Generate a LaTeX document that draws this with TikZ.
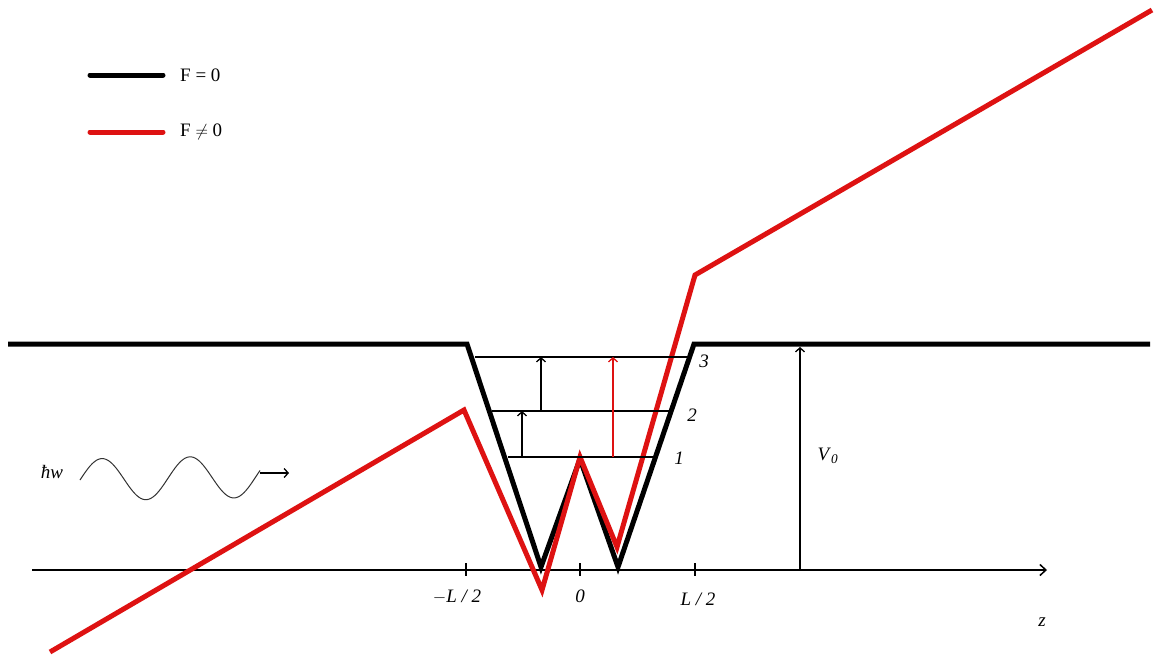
\documentclass[tikz,border=0pt]{standalone}
\usepackage{fontspec}
\setmainfont{Liberation Serif}
\usetikzlibrary{arrows.meta,positioning,calc}
\definecolor{fieldred}{RGB}{222,18,18}

\begin{document}
\begin{tikzpicture}[
  x=1pt, y=-1pt,
  thickline/.style={line width=5pt, line join=miter, miter limit=20},
  thinline/.style={line width=1.5pt},
  lvlarrow/.style={thinline,-{Straight Barb[length=4pt,width=9pt,line width=1.3pt]}},
  axisarrow/.style={thinline,-{Straight Barb[length=6pt,width=11pt,line width=1.5pt]}},
  every node/.style={font=\fontsize{19}{22}\selectfont, inner sep=1pt}
  ]
\useasboundingbox (0,0) rectangle (1156,657);

% legend
\coordinate (lgblackA) at (90,75);
\coordinate (lgblackB) at (163,75);
\coordinate (lgredA) at (90,132);
\coordinate (lgredB) at (163,132);
\draw[thickline, line cap=round] (lgblackA) -- (lgblackB);
\draw[thickline, line cap=round, fieldred] (lgredA) -- (lgredB);
\node[right=16pt of lgblackB] (lgblack) {F = 0};
\node[right=16pt of lgredB] (lgred) {F $\neq$ 0};

% z axis with ticks
\coordinate (zstart) at (32,570);
\coordinate (zend) at (1047,570);
\draw[axisarrow] (zstart) -- (zend);
\foreach \name/\xx in {tickneg/466, tickzero/580, tickpos/695} {
  \coordinate (\name) at (\xx,570);
  \draw[thinline] ($(\name)+(0,-7)$) -- ($(\name)+(0,6)$);
}
\node (lblneg) at (457,597) {\textit{$-$L / 2}};
\node (lblzero) at (580,596) {\textit{0}};
\node (lblpos) at (698,599) {\textit{L / 2}};
\node (lblz) at (1042,622) {\textit{z}};

% well, F = 0
\draw[thickline] (8,344) -- (467,344) -- (541,567) -- (580,459)
  -- (618,567) -- (694,344) -- (1150,344);

% well, F != 0
\draw[thickline, fieldred] (50,652) -- (464,410) -- (542,590) -- (580,457)
  -- (617,547) -- (695,275) -- (1152,10);

% levels
\foreach \n/\xa/\xb/\yy in {1/508/653/457, 2/492/670/411, 3/475/687/357} {
  \coordinate (lvl\n a) at (\xa,\yy);
  \coordinate (lvl\n b) at (\xb,\yy);
  \draw[thinline] (lvl\n a) -- (lvl\n b);
}
\node (lbl1) at (679,458) {\textit{1}};
\node (lbl2) at (692,415) {\textit{2}};
\node (lbl3) at (704,361) {\textit{3}};

% transitions
\draw[lvlarrow] (lvl1a -| 522,0) -- (lvl2a -| 522,0);
\draw[lvlarrow] (lvl2a -| 541,0) -- (lvl3a -| 541,0);
\draw[lvlarrow, fieldred] (lvl1a -| 613,0) -- (lvl3a -| 613,0);

% barrier height
\coordinate (vbot) at (800,570);
\coordinate (vtop) at (800,347);
\draw[lvlarrow] (vbot) -- (vtop);
\node (lblv) at (828,456) {\textit{V}\textsubscript{\textit{0}}};

% photon
\node (lblhw) at (52,472) {\textit{ħw}};
\draw[gray!40!black, line width=1pt] plot[domain=80:260, samples=90, smooth]
  (\x, {480 - 0.02*(\x-80) - 21*sin(4.0909*(\x-80))});
\coordinate (wavea) at (260,473);
\coordinate (waveb) at (289,473);
\draw[lvlarrow] (wavea) -- (waveb);

\end{tikzpicture}
\end{document}
